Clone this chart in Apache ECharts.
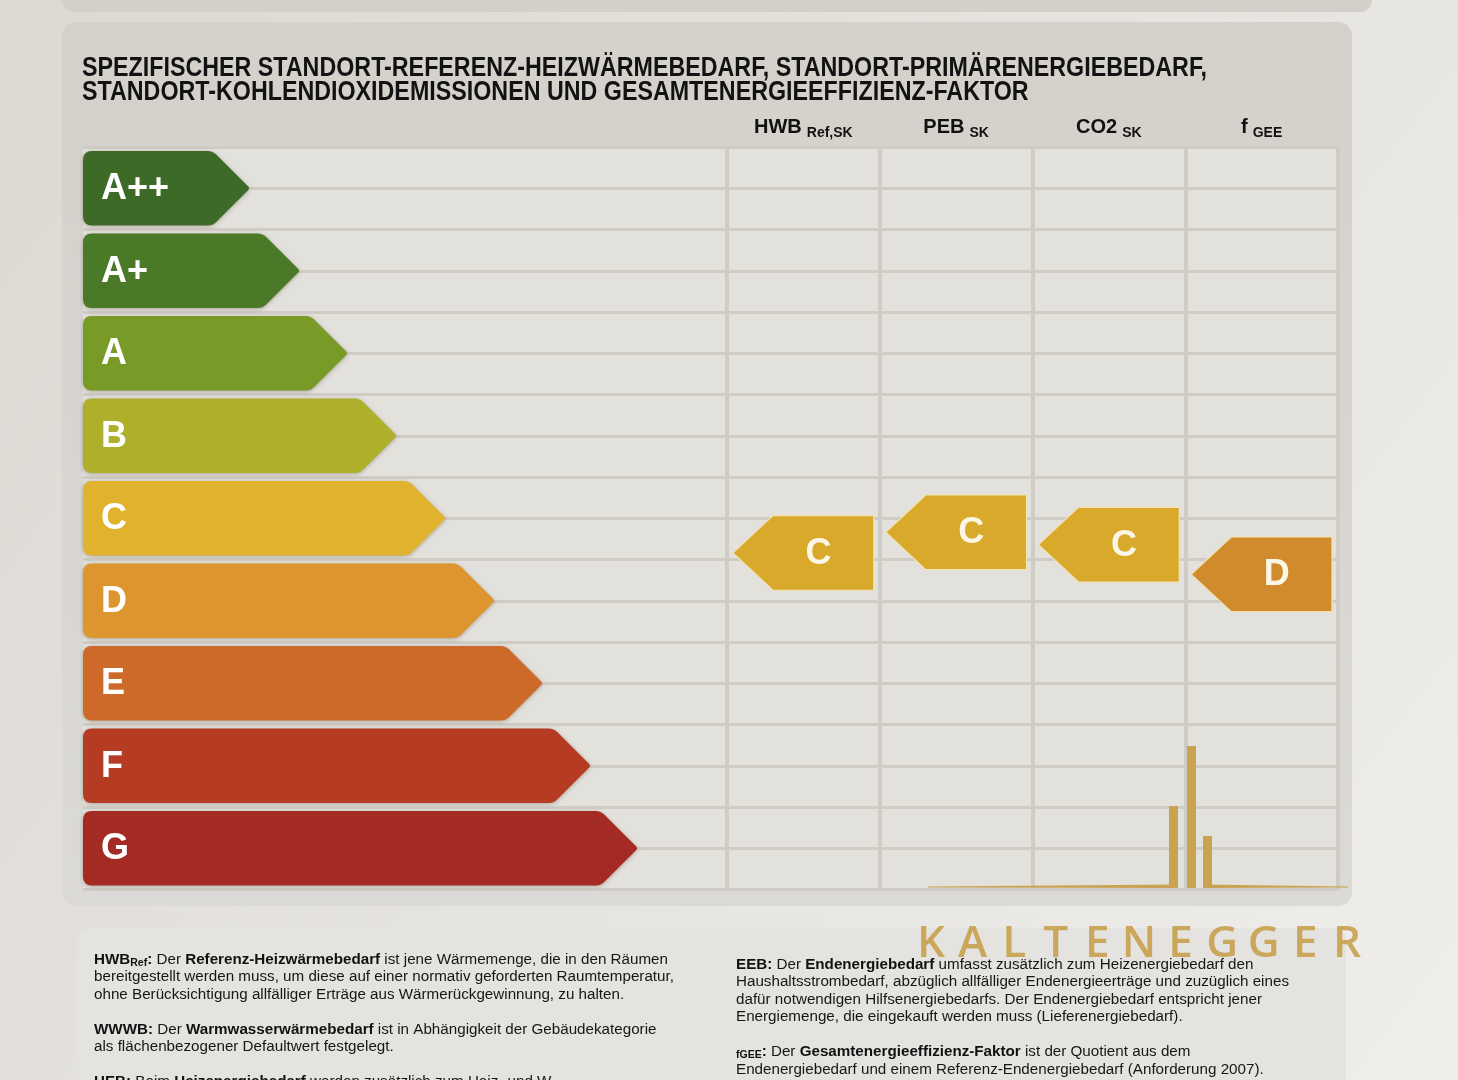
<!DOCTYPE html>
<html><head><meta charset="utf-8">
<script src="https://cdn.jsdelivr.net/npm/echarts@6/dist/echarts.min.js"></script>
<style>html,body{margin:0;padding:0;background:#e7e5e1}#c{width:1458px;height:1080px}</style>
</head><body><div id="c"></div>
<script>
// ---------- data ----------
const titleLines = [
  'SPEZIFISCHER STANDORT-REFERENZ-HEIZWÄRMEBEDARF, STANDORT-PRIMÄRENERGIEBEDARF,',
  'STANDORT-KOHLENDIOXIDEMISSIONEN UND GESAMTENERGIEEFFIZIENZ-FAKTOR'
];
const classes = ['A++', 'A+', 'A', 'B', 'C', 'D', 'E', 'F', 'G'];
const classBarLengths = [167, 217, 265, 314, 363, 412, 460, 508, 555];
const columns = ['HWB', 'PEB', 'CO2', 'f'];
const columnSubs = ['Ref,SK', 'SK', 'SK', 'GEE'];
const ratingClasses = ['C', 'C', 'C', 'D'];
const ratingPositions = [4.92, 4.67, 4.82, 5.18];
const brandLetters = ['K','A','L','T','E','N','E','G','G','E','R'];

// ---------- styles ----------
const classColors = ['#3e6a28', '#4a7927', '#789a27', '#aeb02b', '#e1b22e', '#dd962f', '#cd6a2a', '#b63b23', '#a32b24'];
const ratingColors = { C: '#d9a92b', D: '#d08b2c' };
const GOLD = '#c9a352';
const LINE = '#cfccc5';
const SANS = '"Liberation Sans", Arial, sans-serif';

const mctx = document.createElement('canvas').getContext('2d');
function textW(str, font) { mctx.font = font; return mctx.measureText(str).width; }
const titleFont = 'bold 27px ' + SANS;
const titleScale = 1125 / textW(titleLines[0], titleFont);

function renderClassBar(params, api) {
  const cat = api.value(1);
  const tip = api.coord([api.value(0), cat]);
  const start = api.coord([0, cat]);
  const band = api.size([0, 1])[1];
  const h = band * 0.905, half = h / 2;
  const x0 = start[0], xt = tip[0], yc = tip[1];
  const xb = xt - half;
  const yt = yc - half, yb = yc + half, r = 9, q = 5;
  const d = `M${x0 + r} ${yt} L${xb - q} ${yt} Q${xb} ${yt} ${xb + q * 0.7} ${yt + q * 0.7} L${xt - 2} ${yc - 2} Q${xt} ${yc} ${xt - 2} ${yc + 2} L${xb + q * 0.7} ${yb - q * 0.7} Q${xb} ${yb} ${xb - q} ${yb} L${x0 + r} ${yb} Q${x0} ${yb} ${x0} ${yb - r} L${x0} ${yt + r} Q${x0} ${yt} ${x0 + r} ${yt} Z`;
  const col = classColors[params.dataIndex];
  return {
    type: 'group', children: [
      { type: 'path', shape: { pathData: d }, style: { fill: col, shadowBlur: 4, shadowColor: 'rgba(70,50,30,0.35)', shadowOffsetY: 1 } },
      { type: 'text', x: x0 + 18, y: yc + 1, style: { text: classes[params.dataIndex], fill: '#ffffff', font: 'bold 36px ' + SANS, verticalAlign: 'middle', align: 'left' } }
    ]
  };
}

function renderRating(params, api) {
  const c = api.coord([api.value(0), api.value(1)]);
  const colW = api.size([1, 0])[0];
  const h = api.size([0, 1])[1] * 0.905;
  const w = colW - 12, tw = 40;
  const xl = c[0] - w / 2, xr = c[0] + w / 2, yt = c[1] - h / 2, yb = c[1] + h / 2;
  const letter = ratingClasses[params.dataIndex];
  return {
    type: 'group', children: [
      { type: 'polygon', shape: { points: [[xl, c[1]], [xl + tw, yt], [xr, yt], [xr, yb], [xl + tw, yb]] }, style: { fill: ratingColors[letter], stroke: '#f3e4b2', lineWidth: 1.2 } },
      { type: 'text', x: (xl + tw + xr) / 2 - 5, y: c[1] + 1, style: { text: letter, fill: '#fbf6e6', font: 'bold 36px ' + SANS, align: 'center', verticalAlign: 'middle' } }
    ]
  };
}

const footLeft = [
  '{b|HWB}{bs|Ref}{b|:} Der {b|Referenz-Heizwärmebedarf} ist jene Wärmemenge, die in den Räumen',
  'bereitgestellt werden muss, um diese auf einer normativ geforderten Raumtemperatur,',
  'ohne Berücksichtigung allfälliger Erträge aus Wärmerückgewinnung, zu halten.',
  '',
  '{b|WWWB:} Der {b|Warmwasserwärmebedarf} ist in Abhängigkeit der Gebäudekategorie',
  'als flächenbezogener Defaultwert festgelegt.',
  '',
  '{b|HEB:} Beim {b|Heizenergiebedarf} werden zusätzlich zum Heiz- und W'
].join('\n');
const footRight = [
  '{b|EEB:} Der {b|Endenergiebedarf} umfasst zusätzlich zum Heizenergiebedarf den',
  'Haushaltsstrombedarf, abzüglich allfälliger Endenergieerträge und zuzüglich eines',
  'dafür notwendigen Hilfsenergiebedarfs. Der Endenergiebedarf entspricht jener',
  'Energiemenge, die eingekauft werden muss (Lieferenergiebedarf).',
  '',
  '{bs|fGEE}{b|:} Der {b|Gesamtenergieeffizienz-Faktor} ist der Quotient aus dem',
  'Endenergiebedarf und einem Referenz-Endenergiebedarf (Anforderung 2007).'
].join('\n');
const FS = 15.2;
const footRich = {
  b: { fontSize: FS, fontFamily: SANS, fontWeight: 'bold', fill: '#111', lineHeight: 17.5 },
  bs: { fontSize: 10.5, fontFamily: SANS, fontWeight: 'bold', fill: '#111', lineHeight: 17.5, verticalAlign: 'bottom' }
};
function footText(x, y, text) {
  return { type: 'text', x: x, y: y, z: 5, style: { text: text, fontSize: FS, fontFamily: SANS, fill: '#161616', lineHeight: 17.5, rich: footRich, align: 'left', verticalAlign: 'top' } };
}

const brandGraphics = brandLetters.map((l, i) => ({
  type: 'text', x: 931 + i * 41.6, y: 944, z: 50,
  style: { text: l, fill: GOLD, font: '600 44px "Open Sans", Lato, sans-serif', align: 'center', verticalAlign: 'middle', opacity: 0.93 }
}));

const chart = echarts.init(document.getElementById('c'));
chart.setOption({
  animation: false,
  backgroundColor: '#e7e5e1',
  grid: [
    { left: 83, top: 147, width: 644, height: 742.5, show: true, backgroundColor: '#e3e1dc', borderWidth: 0 },
    { left: 727, top: 147, width: 611, height: 742.5, show: true, backgroundColor: '#e3e1dc', borderWidth: 0 }
  ],
  xAxis: [
    { gridIndex: 0, type: 'value', min: 0, max: 644, show: false },
    {
      gridIndex: 1, type: 'category', data: columns, position: 'top',
      axisLine: { show: false }, axisTick: { show: false },
      axisLabel: {
        interval: 0, margin: 7,
        formatter: (v, i) => `{m|${columns[i]}}{s|${columnSubs[i]}}`,
        rich: {
          m: { fontSize: 20, fontWeight: 'bold', fontFamily: SANS, color: '#111', lineHeight: 26 },
          s: { fontSize: 14, fontWeight: 'bold', fontFamily: SANS, color: '#111', lineHeight: 16, verticalAlign: 'bottom', padding: [0, 0, 0, 5] }
        }
      },
      splitLine: { show: true, lineStyle: { color: LINE, width: 4 } }
    }
  ],
  yAxis: [
    { gridIndex: 0, type: 'category', data: classes, inverse: true, show: false },
    { gridIndex: 0, type: 'value', min: 0, max: 9, interval: 0.5, inverse: true, axisLine: { show: false }, axisTick: { show: false }, axisLabel: { show: false }, splitLine: { show: true, lineStyle: { color: LINE, width: 3 } } },
    { gridIndex: 1, type: 'value', min: 0, max: 9, interval: 0.5, inverse: true, axisLine: { show: false }, axisTick: { show: false }, axisLabel: { show: false }, splitLine: { show: true, lineStyle: { color: LINE, width: 3 } } }
  ],
  series: [
    { type: 'custom', xAxisIndex: 0, yAxisIndex: 0, z: 3, silent: true, data: classes.map((c, i) => [classBarLengths[i], i]), renderItem: renderClassBar },
    { type: 'custom', xAxisIndex: 1, yAxisIndex: 2, z: 4, silent: true, data: columns.map((c, i) => [i, ratingPositions[i]]), renderItem: renderRating }
  ],
  graphic: [
    { type: 'rect', z: -20, shape: { x: 0, y: 0, width: 1458, height: 1080 }, style: { fill: new echarts.graphic.LinearGradient(0, 0, 1, 1, [{ offset: 0, color: '#dcd9d3' }, { offset: 1, color: '#efeeeb' }]) } },
    { type: 'rect', z: -19, shape: { x: 62, y: -30, width: 1310, height: 42, r: 12 }, style: { fill: '#d3d0c9' } },
    { type: 'rect', z: -19, shape: { x: 62, y: 22, width: 1290, height: 884, r: 14 }, style: { fill: new echarts.graphic.LinearGradient(0, 0, 0, 1, [{ offset: 0, color: '#d4d1cb' }, { offset: 1, color: '#dcdad6' }]) } },
    { type: 'rect', z: -19, shape: { x: 78, y: 928, width: 1268, height: 180, r: 12 }, style: { fill: '#e4e3df' } },
    { type: 'text', x: 82, y: 57, z: 5, scaleX: titleScale, style: { text: titleLines.join('\n'), font: titleFont, fill: '#121212', lineHeight: 24, verticalAlign: 'top', align: 'left' } },
    footText(94, 951, footLeft),
    footText(736, 956, footRight),
    { type: 'rect', z: 50, shape: { x: 1187, y: 746, width: 9, height: 142 }, style: { fill: GOLD } },
    { type: 'rect', z: 50, shape: { x: 1169, y: 806, width: 9, height: 82 }, style: { fill: GOLD } },
    { type: 'rect', z: 50, shape: { x: 1203, y: 836, width: 9, height: 52 }, style: { fill: GOLD } },
    { type: 'polygon', z: 50, shape: { points: [[928, 886.6], [1178, 884.6], [1178, 888], [928, 887.4]] }, style: { fill: GOLD } },
    { type: 'polygon', z: 50, shape: { points: [[1203, 884.6], [1348, 886.6], [1348, 887.4], [1203, 888]] }, style: { fill: GOLD } }
  ].concat(brandGraphics)
});
</script>
</body></html>
